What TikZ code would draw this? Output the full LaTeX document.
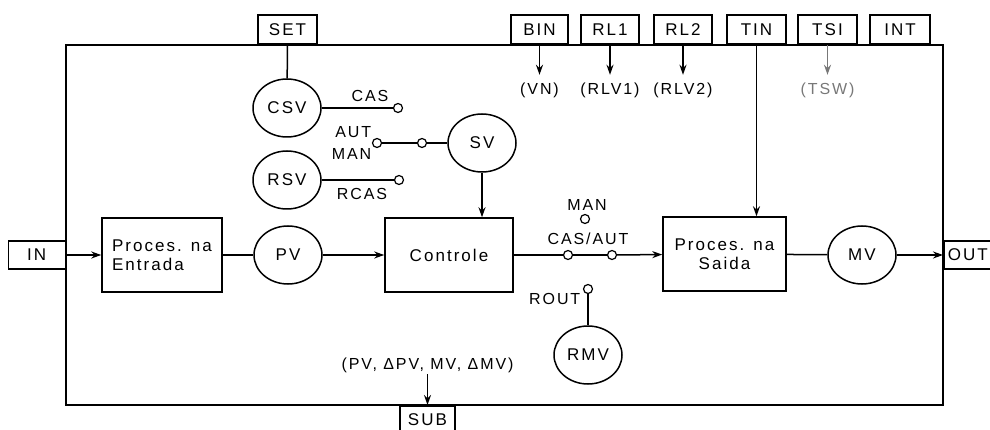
\documentclass[tikz,border=0pt]{standalone}
\usepackage{fontspec}
\setmainfont{Liberation Sans}[LetterSpace=12]
\usepackage{xcolor}
\usepackage{tikz}
\usetikzlibrary{
	arrows.meta,
	shapes.geometric,
	positioning
}
\definecolor{Apagado}{RGB}{120,120,120}

\begin{document}
\begin{tikzpicture}[x=1pt, y=-1pt, line width=1.5pt,
		>={Stealth[length=10pt, width=7pt]},
		blk/.style={draw, minimum width=#1, minimum height=74pt, font=\fontsize{17}{19}\selectfont},
		varc/.style={draw, ellipse, minimum width=68pt, minimum height=58pt, inner sep=0pt, font=\fontsize{17}{19}\selectfont},
		borne/.style={draw, minimum width=#1, minimum height=29pt, inner sep=2pt, font=\fontsize{17}{19}\selectfont},
		contato/.style={draw, circle, fill=white, minimum size=9pt, inner sep=0pt, line width=1.2pt},
		lbl/.style={inner sep=1pt, font=\fontsize{16}{18}\selectfont}]
		\useasboundingbox (0,0) rectangle (990,430);
		
		% moldura do bloco
		\draw (66,45) rectangle (943,405);
		
		% terminais
		\node[borne=59pt, anchor=south] (set) at (287.5,45) {SET};
		\node[borne=57pt, anchor=south] (bin) at (539.5,45) {BIN};
		\node[borne=58pt, anchor=south] (rl1) at (610,45) {RL1};
		\node[borne=58pt, anchor=south] (rl2) at (683,45) {RL2};
		\node[borne=59pt, anchor=south] (tin) at (756.5,45) {TIN};
		\node[borne=59pt, anchor=south] (tsi) at (827.5,45) {TSI};
		\node[borne=60pt, anchor=south] (int) at (900,45) {INT};
		\node[borne=57pt, minimum height=28pt, anchor=east] (in) at (66,255) {IN};
		\node[borne=60pt, minimum height=28pt, anchor=west, inner xsep=4pt, text width=52pt, align=left] (out) at (943,255) {OUT};
		\node[borne=55pt, minimum height=28pt, anchor=north] (sub) at (427.5,405) {SUB};
		
		% valores
		\node[varc] (csv) at (287,108) {CSV};
		\node[varc] (rsv) at (287,180) {RSV};
		\node[varc] (sv) at (482,143) {SV};
		\node[varc] (pv) at (288,255) {PV};
		\node[varc] (mv) at (862,255) {MV};
		\node[varc] (rmv) at (588,355) {RMV};
		
		% blocos
		\node[blk=120pt, align=left] (entr) at (162,255) {Proces. na\\Entrada};
		\node[blk=128pt] (ctrl) at (449,255) {Controle};
		\node[blk=123pt, align=center] (saida) at (724.5,254) {Proces. na\\Saida};
		
		% contatos
		\node[contato] (pcas) at (398,108) {};
		\node[contato] (paut) at (377,143) {};
		\node[contato] (psw) at (422,143) {};
		\node[contato] (prcas) at (399,180) {};
		\node[contato] (pman) at (585,219) {};
		\node[contato] (pca) at (568,255) {};
		\node[contato] (pcb) at (612,255) {};
		\node[contato] (prout) at (588,289) {};
		
		% textos
		\node[lbl] (lcas) at (370,96) {CAS};
		\node[lbl, anchor=east] (laut) at (373,132) {AUT};
		\node[lbl, anchor=east] (lman) at (373,154) {MAN};
		\node[lbl] (lrcas) at (362,194) {RCAS};
		\node[lbl] (lman2) at (587,205) {MAN};
		\node[lbl] (lcasaut) at (588,239) {CAS/AUT};
		\node[lbl, anchor=east] (lrout) at (582,299) {ROUT};
		\node[lbl] (vn) at (539.5,90) {(VN)};
		\node[lbl] (rlv1) at (610,90) {(RLV1)};
		\node[lbl] (rlv2) at (683,90) {(RLV2)};
		\node[lbl, text=Apagado] (tsw) at (827.5,90) {(TSW)};
		\node[lbl] (lsub) at (427.5,365) {(PV, ΔPV, MV, ΔMV)};
		
		% ligacoes
		\draw (set) -- (csv);
		\draw (csv) -- (pcas);
		\draw (paut) -- (psw) -- (sv);
		\draw (rsv) -- (prcas);
		\draw[->] (sv) -- (sv |- ctrl.north);
		\draw[->] (in) -- (entr);
		\draw (entr) -- (pv);
		\draw[->] (pv) -- (ctrl);
		\draw (ctrl) -- (pca) -- (pcb);
		\draw[->] (pcb) -- (saida);
		\draw (saida) -- (mv);
		\draw[->] (mv) -- (out);
		\draw[->] (tin) -- (tin |- saida.north);
		\draw (rmv) -- (prout);
		\draw[->, shorten >=6pt] (bin) -- (vn);
		\draw[->, shorten >=6pt] (rl1) -- (rlv1);
		\draw[->, shorten >=6pt] (rl2) -- (rlv2);
		\draw[->, shorten >=6pt, Apagado] (tsi) -- (tsw);
		\draw[->] (lsub) -- (sub);
	\end{tikzpicture}
\end{document}
